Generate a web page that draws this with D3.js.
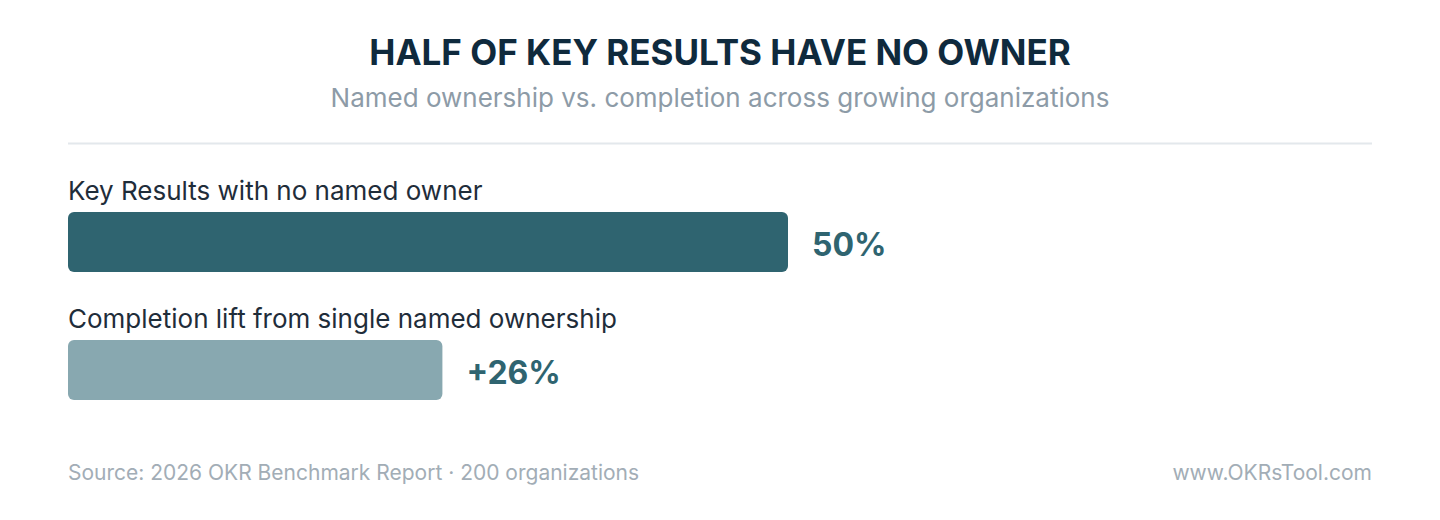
<!DOCTYPE html>
<html>
<head>
<meta charset="utf-8">
<script src="https://cdn.jsdelivr.net/npm/d3@7"></script>
<style>
  html, body { margin: 0; padding: 0; background: #ffffff; }
  svg { display: block; font-family: Inter, "Noto Sans", sans-serif; }
</style>
</head>
<body>
<svg id="chart" width="1440" height="520"></svg>
<script>
// Data
var categories = ["Key Results with no named owner", "Completion lift from single named ownership"];
var values = [50, 26];
var valueLabels = ["50%", "+26%"];
var barColors = ["#2f6470", "#88a8b0"];

var Width = 1440, Height = 520;
var Left = 68, Right = 1372;
var BarTop = 212, RowStep = 128, BarHeight = 60;

var svg = d3.select("#chart");

// x scale: 50% spans 720px in the reference
var x = d3.scaleLinear().domain([0, 100]).range([0, 1440]);

var y = d3.scaleBand()
  .domain(categories)
  .range([BarTop, BarTop + RowStep * categories.length])
  .paddingInner(0)
  .paddingOuter(0);

// Title and subtitle
svg.append("text")
  .attr("x", Width / 2).attr("y", 65)
  .attr("text-anchor", "middle")
  .style("font-size", "35px").style("font-weight", 700)
  .style("fill", "#0f2a3d")
  .text("HALF OF KEY RESULTS HAVE NO OWNER");

svg.append("text")
  .attr("x", Width / 2).attr("y", 107)
  .attr("text-anchor", "middle")
  .style("font-size", "26px")
  .style("fill", "#8d9ba7")
  .text("Named ownership vs. completion across growing organizations");

svg.append("line")
  .attr("x1", Left).attr("x2", Right)
  .attr("y1", 143.5).attr("y2", 143.5)
  .style("stroke", "#e3e8ec").style("stroke-width", 2);

var rows = svg.selectAll("g.row")
  .data(categories)
  .enter()
  .append("g")
    .attr("class", "row");

// Category label above each bar
rows.append("text")
  .attr("x", Left)
  .attr("y", function(d) { return y(d) - 12; })
  .style("font-size", "26px")
  .style("fill", "#1f2d3a")
  .text(function(d) { return d; });

rows.append("rect")
  .attr("x", Left)
  .attr("y", function(d) { return y(d); })
  .attr("width", function(d, i) { return x(values[i]); })
  .attr("height", BarHeight)
  .attr("rx", 6).attr("ry", 6)
  .style("fill", function(d, i) { return barColors[i]; });

rows.append("text")
  .attr("x", function(d, i) { return Left + x(values[i]) + 24; })
  .attr("y", function(d) { return y(d) + 44; })
  .style("font-size", "32px").style("font-weight", 700)
  .style("fill", "#2f6470")
  .text(function(d, i) { return valueLabels[i]; });

// Footer
svg.append("text")
  .attr("x", Left).attr("y", 480)
  .style("font-size", "21px")
  .style("fill", "#a2adb6")
  .text("Source: 2026 OKR Benchmark Report \u00b7 200 organizations");

svg.append("text")
  .attr("x", Right).attr("y", 480)
  .attr("text-anchor", "end")
  .style("font-size", "21px")
  .style("fill", "#a2adb6")
  .text("www.OKRsTool.com");
</script>
</body>
</html>
